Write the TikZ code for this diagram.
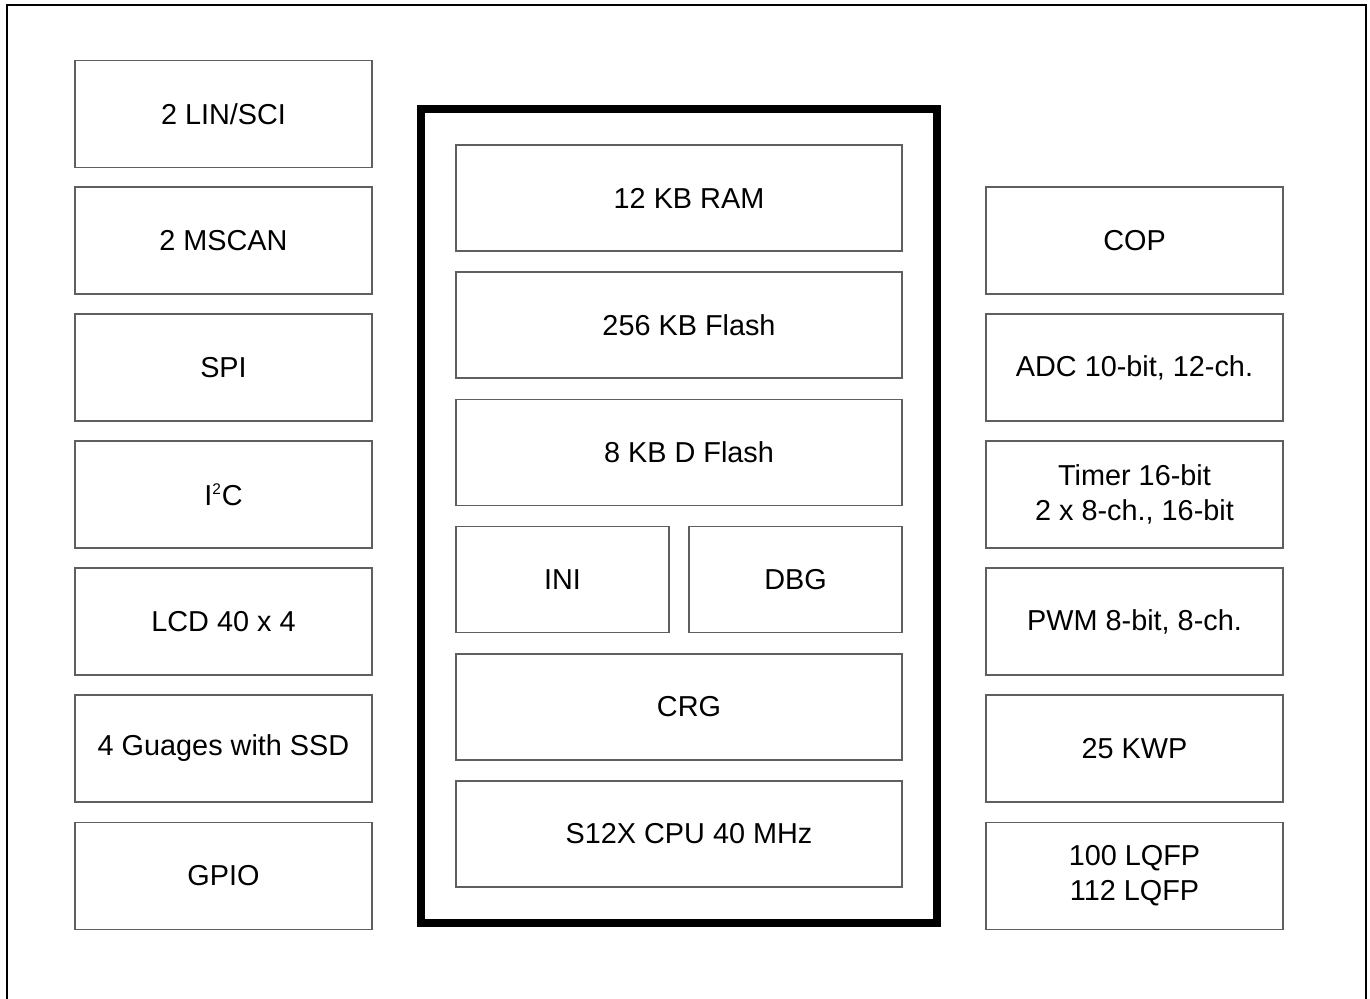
\documentclass[tikz,border=0pt]{standalone}
\usepackage{fontspec}
\setmainfont{Liberation Sans}
\usepackage{tikz}
\usetikzlibrary{positioning}
\definecolor{boxline}{RGB}{95, 95, 95}
\tikzset{
  periph/.style={draw=boxline, line width=1.3pt, minimum width=7.425cm, minimum height=2.675cm,
                 align=center, inner sep=0pt, font=\fontsize{20.5}{25}\selectfont},
  core/.style={periph, minimum width=11.15cm, minimum height=2.65cm,
               execute at begin node={\hspace*{0.5cm}}},
  half/.style={periph, minimum width=5.325cm, minimum height=2.65cm}
}
\begin{document}
\begin{tikzpicture}[x=0.025cm, y=-0.025cm]
            \useasboundingbox (0,0) rectangle (1370,999);
            \draw[black, line width=2pt] (7,999) -- (7,5) -- (1366,5) -- (1366,999);
            \draw[black, line width=5pt] (421,109) rectangle (937,923);
            \node[periph] (lin)    at (223.5, 114.0) {2 LIN/SCI};
            \node[periph] (mscan)  at (223.5, 240.5) {2 MSCAN};
            \node[periph] (spi)    at (223.5, 367.5) {SPI};
            \node[periph] (iic)    at (223.5, 494.5) {I\textsuperscript{\fontsize{11}{11}\selectfont 2}C};
            \node[periph] (lcd)    at (223.5, 621.5) {LCD 40 x 4};
            \node[periph] (gauges) at (223.5, 748.5) {4 Guages with SSD};
            \node[periph] (gpio)   at (223.5, 876.0) {GPIO};
            \node[core]   (ram)    at (679.0, 198.0) {12 KB RAM};
            \node[core]   (flash)  at (679.0, 325.0) {256 KB Flash};
            \node[core]   (dflash) at (679.0, 452.5) {8 KB D Flash};
            \node[half]   (ini)    at (562.5, 579.5) {INI};
            \node[half]   (dbg)    at (795.5, 579.5) {DBG};
            \node[core]   (crg)    at (679.0, 707.0) {CRG};
            \node[core]   (cpu)    at (679.0, 834.0) {S12X CPU 40 MHz};
            \node[periph] (cop)    at (1134.5, 240.5) {COP};
            \node[periph] (adc)    at (1134.5, 367.5) {ADC 10-bit, 12-ch.};
            \node[periph] (timer)  at (1134.5, 494.5) {Timer 16-bit\\2 x 8-ch., 16-bit};
            \node[periph] (pwm)    at (1134.5, 621.5) {PWM 8-bit, 8-ch.};
            \node[periph] (kwp)    at (1134.5, 748.5) {25 KWP};
            \node[periph] (pkg)    at (1134.5, 876.0) {100 LQFP\\112 LQFP};
        \end{tikzpicture}
\end{document}
